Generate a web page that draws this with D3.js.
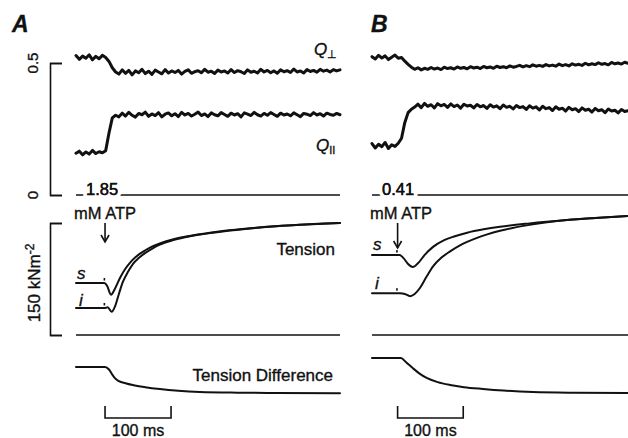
<!DOCTYPE html>
<html>
<head>
<meta charset="utf-8">
<script src="https://cdn.jsdelivr.net/npm/d3@7"></script>
<style>
  body { margin: 0; background: #fff; }
  text { font-family: "Liberation Sans", Arial, sans-serif; fill: #111; stroke: #111; stroke-width: 0.35px; }
  .trace { fill: none; stroke: #111; stroke-linejoin: round; stroke-linecap: round; }
  .axis path, .axis line { stroke: #111; stroke-width: 1.6; }
</style>
</head>
<body>
<script>
// ---- data ----
// Q (fluorescence polarisation order parameters), sampled every 5 ms
var qTimeA = d3.range(-45, 356, 5);   // 81 samples, ms after ATP
var qTimeB = d3.range(-40, 351, 5);   // 79 samples

var qPerpA = [0.528,0.514,0.526,0.518,0.531,0.512,0.525,0.516,0.529,0.521,
  0.506,0.482,0.466,
  0.458,0.474,0.461,0.472,0.455,0.470,0.463,0.476,0.460,0.469,
  0.457,0.473,0.466,0.459,0.475,0.462,0.470,0.464,0.472,0.458,
  0.468,0.474,0.461,0.467,0.471,0.463,0.476,0.465,0.469,0.460,
  0.473,0.466,0.470,0.462,0.475,0.464,0.471,0.467,0.460,0.474,
  0.465,0.469,0.462,0.476,0.466,0.472,0.463,0.470,0.461,0.474,
  0.467,0.471,0.464,0.477,0.466,0.470,0.462,0.475,0.468,0.472,
  0.465,0.476,0.469,0.473,0.466,0.475,0.470,0.474];
var qParA = [0.158,0.166,0.152,0.163,0.155,0.169,0.157,0.164,0.160,0.168,
  0.235,0.292,0.302,
  0.296,0.310,0.299,0.313,0.302,0.295,0.309,0.304,0.314,0.298,
  0.307,0.301,0.312,0.296,0.306,0.311,0.300,0.308,0.297,0.313,
  0.303,0.309,0.299,0.306,0.314,0.301,0.307,0.297,0.311,0.304,
  0.300,0.312,0.305,0.298,0.310,0.303,0.308,0.296,0.311,0.306,
  0.301,0.313,0.304,0.299,0.309,0.302,0.312,0.305,0.298,0.310,
  0.303,0.307,0.300,0.311,0.304,0.297,0.309,0.306,0.301,0.312,
  0.303,0.308,0.299,0.310,0.305,0.302,0.309,0.304];
var qPerpB = [0.524,0.515,0.529,0.519,0.527,0.513,0.522,0.530,0.518,
  0.521,0.507,0.495,0.484,0.476,
  0.482,0.474,0.480,0.476,0.483,0.477,0.481,0.475,0.484,0.479,
  0.482,0.477,0.485,0.480,0.483,0.478,0.486,0.481,0.484,0.479,
  0.487,0.482,0.485,0.480,0.488,0.483,0.486,0.482,0.489,0.484,
  0.487,0.491,0.485,0.490,0.486,0.493,0.488,0.491,0.487,0.494,
  0.489,0.492,0.488,0.496,0.490,0.494,0.489,0.497,0.492,0.495,
  0.491,0.499,0.493,0.497,0.494,0.501,0.495,0.498,0.493,0.502,
  0.497,0.500,0.496,0.503,0.499];
var qParB = [0.195,0.178,0.192,0.183,0.199,0.176,0.190,0.184,0.196,
  0.215,0.275,0.312,0.325,0.333,
  0.344,0.331,0.347,0.336,0.342,0.330,0.346,0.338,0.343,0.332,
  0.345,0.335,0.341,0.329,0.344,0.337,0.340,0.330,0.343,0.334,
  0.339,0.328,0.342,0.333,0.338,0.327,0.341,0.332,0.336,0.326,
  0.339,0.331,0.335,0.324,0.338,0.329,0.334,0.322,0.336,0.327,
  0.331,0.320,0.334,0.325,0.329,0.318,0.332,0.323,0.327,0.316,
  0.330,0.321,0.325,0.314,0.328,0.319,0.323,0.312,0.326,0.318,
  0.321,0.311,0.324,0.316,0.319];

// tension, kN m^-2 (s and i traces)
var tSA = [-45,-2,2,8,14,22,30,37,45,52,60,67,82,100,120,143,180,219,260,294,330,355];
var tensSA = [69.6,69.6,66,54,62,77,89,97,104,109,113.5,117,122.5,127.5,131.5,135,139.5,143,146,147.8,149.2,150];
var tIA = [-45,-2,3,9,14,20,26,34,42,50,60,70,82,100,120,143,180,219,260,294,330,355];
var tensIA = [36.2,36.2,37,31,38,55,71,85,96,103,110,115.5,121,126.5,130.8,134.5,139,142.7,145.8,147.6,149.1,150];
var tSB = [-40,2,8,15,22,30,40,53,70,85,105,130,155,200,257,300,350];
var tensSB = [107,107,103,95,91,96,107,118,127,132,137,141.5,145,149.5,154,156.8,159.4];
var tIB = [-40,3,10,18,25,33,43,53,65,79,94,120,155,200,257,300,350];
var tensIB = [56,56,55,52,55,63,78,92,103,112,120,130,139.5,147.5,154,156.8,159.4];

// tension difference (s - i)
var tDA = [-45,-1,5,10,14,20,30,41,60,82,110,143,200,260,355];
var diffA = [37.5,37.5,34,27,22,18,15,12.5,9.5,6.9,4.5,2.8,1.8,1.4,1.0];
var tDB = [-40,4,12,22,33,44,60,79,100,129,160,205,270,350];
var diffB = [50,50,44,36,28,22,16.5,12.5,9.5,7,4.8,2.8,1.8,1.4];

var atpConc = ["1.85", "0.41"];
var panelNames = ["A", "B"];

// ---- drawing ----
var width = 628, height = 438;
var svg = d3.select("body").append("svg").attr("width", width).attr("height", height);

var yQ = d3.scaleLinear().domain([0, 0.5]).range([195, 63]);
var yT = d3.scaleLinear().domain([0, 150]).range([335, 223]);
var yD = d3.scaleLinear().domain([0, 50]).range([394, 358]);

var panels = [
  { x: d3.scaleLinear().domain([-45, 355]).range([76, 340]), t0: -45, t1: 355,
    qt: qTimeA, perp: qPerpA, par: qParA,
    s: [tSA, tensSA], i: [tIA, tensIA], d: [tDA, diffA],
    labelX: 12, arrowLen: 19, sLab: 279, iLab: 306 },
  { x: d3.scaleLinear().domain([-40, 350]).range([372, 628]), t0: -40, t1: 350,
    qt: qTimeB, perp: qPerpB, par: qParB,
    s: [tSB, tensSB], i: [tIB, tensIB], d: [tDB, diffB],
    labelX: 371, arrowLen: 25, sLab: 250, iLab: 289 }
];

// left brackets (axes)
svg.append("g").attr("class", "axis").attr("transform", "translate(50,0)")
  .call(d3.axisRight(yQ).tickValues([0, 0.5]).tickSize(12).tickSizeOuter(12).tickFormat(""));
svg.append("g").attr("class", "axis").attr("transform", "translate(50,0)")
  .call(d3.axisRight(yT).tickValues([0, 150]).tickSize(12).tickSizeOuter(12).tickFormat(""));

[0.5, 0].forEach(function(v) {
  svg.append("text").attr("transform", "translate(38," + yQ(v) + ") rotate(-90)")
    .attr("text-anchor", "middle").style("font-size", "15px").text(v);
});
var tl = svg.append("text").attr("transform", "translate(40," + (yT(75) + 4) + ") rotate(-90)")
  .attr("text-anchor", "middle").style("font-size", "17px");
tl.append("tspan").text("150 kNm");
tl.append("tspan").attr("dy", -6).style("font-size", "12px").text("-2");

panels.forEach(function(p, k) {
  var x = p.x;
  var g = svg.append("g");

  g.append("text").attr("x", p.labelX).attr("y", 32)
    .style("font-size", "23px").style("font-style", "italic").style("font-weight", "bold")
    .text(panelNames[k]);

  // Q traces
  var qLine = d3.line().x(function(d, j) { return x(p.qt[j]); }).y(function(d) { return yQ(d); });
  g.append("path").attr("class", "trace").attr("stroke-width", 3).attr("d", qLine(p.perp));
  g.append("path").attr("class", "trace").attr("stroke-width", 3).attr("d", qLine(p.par));

  // Q zero line with ATP concentration
  g.append("line").attr("x1", x(p.t0)).attr("x2", x(p.t1))
    .attr("y1", yQ(0)).attr("y2", yQ(0)).attr("stroke", "#111").attr("stroke-width", 1.6);
  g.append("text").attr("x", x(p.t0) + 10).attr("y", yQ(0))
    .style("font-size", "16.5px").style("stroke", "#fff").style("stroke-width", "8px")
    .attr("paint-order", "stroke").text(atpConc[k]);
  g.append("text").attr("x", x(p.t0) + 10).attr("y", yQ(0))
    .style("font-size", "16.5px").text(atpConc[k]);
  g.append("text").attr("x", x(p.t0) + 29).attr("y", 219).attr("text-anchor", "middle")
    .style("font-size", "16.5px").text("mM ATP");

  // arrow at ATP arrival
  var ax = x(-1);
  g.append("line").attr("x1", ax).attr("x2", ax).attr("y1", 223).attr("y2", 223 + p.arrowLen)
    .attr("stroke", "#111").attr("stroke-width", 1.6);
  g.append("path").attr("d", "M" + (ax - 4) + "," + (223 + p.arrowLen - 7) + "L" + ax + "," + (223 + p.arrowLen) + "L" + (ax + 4) + "," + (223 + p.arrowLen - 7))
    .attr("fill", "none").attr("stroke", "#111").attr("stroke-width", 1.6);

  // tension traces
  var tLine = function(tt) {
    return d3.line().curve(d3.curveMonotoneX).x(function(d, j) { return x(tt[j]); }).y(function(d) { return yT(d); });
  };
  g.append("path").attr("class", "trace").attr("stroke-width", 2).attr("d", tLine(p.s[0])(p.s[1]));
  g.append("path").attr("class", "trace").attr("stroke-width", 2).attr("d", tLine(p.i[0])(p.i[1]));
  // small marks where the solution change is registered
  [p.s, p.i].forEach(function(tr) {
    g.append("rect").attr("x", x(-2) - 0.8).attr("y", yT(tr[1][0]) - 5)
      .attr("width", 1.6).attr("height", 2.5).attr("fill", "#111");
  });
  g.append("line").attr("x1", x(p.t0)).attr("x2", x(p.t1))
    .attr("y1", yT(0)).attr("y2", yT(0)).attr("stroke", "#111").attr("stroke-width", 1.6);

  g.append("text").attr("x", x(p.t0) + 1).attr("y", p.sLab)
    .style("font-size", "17px").style("font-style", "italic").text("s");
  g.append("text").attr("x", x(p.t0) + 3).attr("y", p.iLab)
    .style("font-size", "17px").style("font-style", "italic").text("i");

  // tension difference
  var dLine = d3.line().curve(d3.curveMonotoneX)
    .x(function(d, j) { return x(p.d[0][j]); }).y(function(d) { return yD(d); });
  g.append("path").attr("class", "trace").attr("stroke-width", 2).attr("d", dLine(p.d[1]));

  // 100 ms scale bar
  var b0 = x(-1), b1 = x(99);
  g.append("path").attr("d", "M" + b0 + ",406V418H" + b1 + "V406")
    .attr("fill", "none").attr("stroke", "#111").attr("stroke-width", 1.6);
  g.append("text").attr("x", (b0 + b1) / 2).attr("y", 436).attr("text-anchor", "middle")
    .style("font-size", "16px").text("100 ms");
});

// labels on panel A
function qLabel(xp, yp, sub) {
  var t = svg.append("text").attr("x", xp).attr("y", yp).style("font-size", "17px");
  t.append("tspan").style("font-style", "italic").text("Q");
  t.append("tspan").attr("dy", 3).style("font-size", "11px").text(sub);
}
qLabel(314, 55, "\u22A5");
qLabel(316, 151, "II");
svg.append("text").attr("x", 335).attr("y", 255).attr("text-anchor", "end")
  .style("font-size", "17px").text("Tension");
svg.append("text").attr("x", 333).attr("y", 381).attr("text-anchor", "end")
  .style("font-size", "17px").text("Tension Difference");
</script>
</body>
</html>
